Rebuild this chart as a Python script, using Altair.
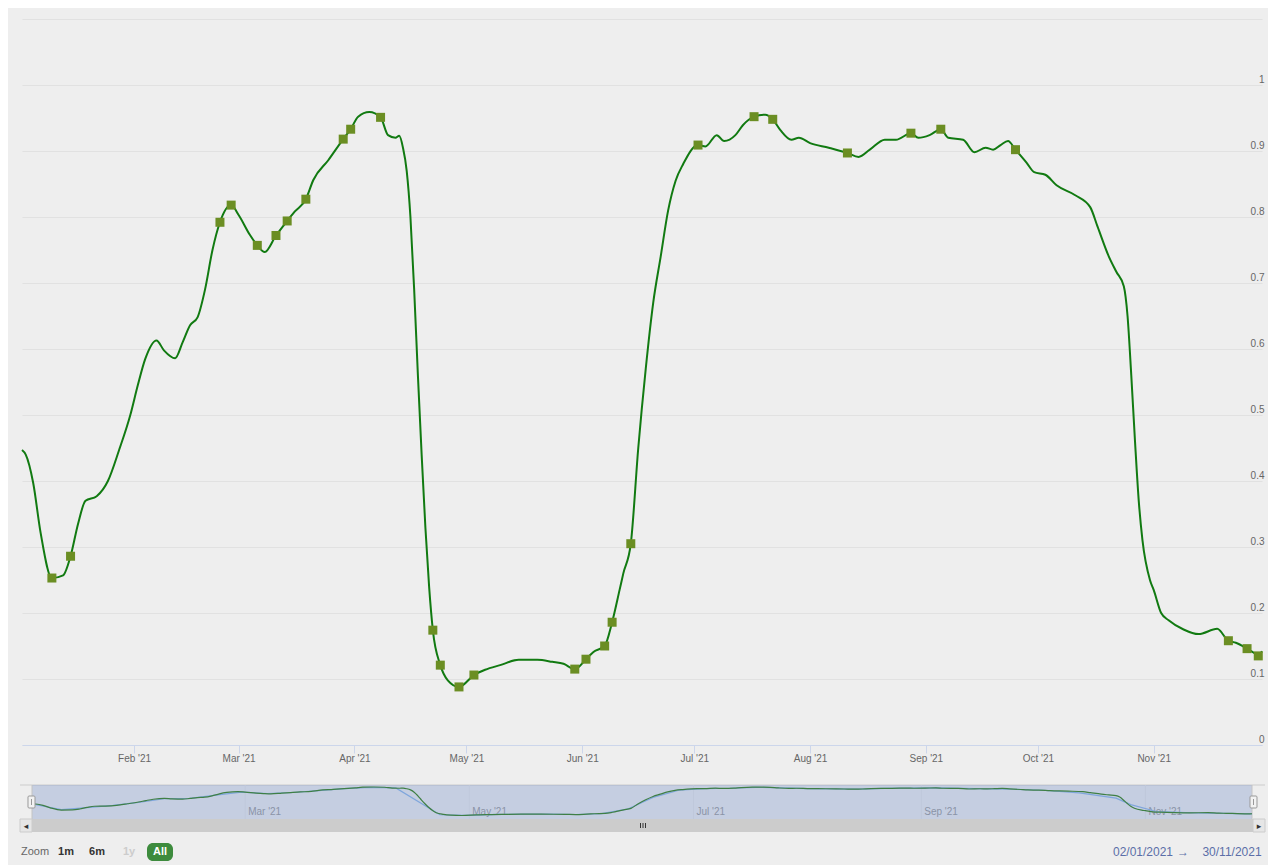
import altair as alt
import pandas as pd

# ---------------- data ----------------
dates = [
    "2021-01-02", "2021-01-03", "2021-01-05", "2021-01-07", "2021-01-10", "2021-01-13", "2021-01-15",
    "2021-01-17", "2021-01-19", "2021-01-22", "2021-01-25", "2021-01-28", "2021-01-31",
    "2021-02-02", "2021-02-04", "2021-02-07", "2021-02-09", "2021-02-12", "2021-02-14", "2021-02-16",
    "2021-02-18", "2021-02-20", "2021-02-22", "2021-02-24", "2021-02-27",
    "2021-03-01", "2021-03-04", "2021-03-06", "2021-03-08", "2021-03-11", "2021-03-14", "2021-03-16",
    "2021-03-19", "2021-03-21", "2021-03-25", "2021-03-29", "2021-03-31",
    "2021-04-02", "2021-04-05", "2021-04-08", "2021-04-10", "2021-04-12", "2021-04-13", "2021-04-14",
    "2021-04-15", "2021-04-16", "2021-04-17", "2021-04-18", "2021-04-19", "2021-04-20", "2021-04-21",
    "2021-04-22", "2021-04-24", "2021-04-26", "2021-04-29",
    "2021-05-03", "2021-05-06", "2021-05-10", "2021-05-15", "2021-05-20", "2021-05-24", "2021-05-27",
    "2021-05-30",
    "2021-06-02", "2021-06-04", "2021-06-07", "2021-06-09", "2021-06-11", "2021-06-12", "2021-06-14",
    "2021-06-16", "2021-06-18", "2021-06-20", "2021-06-22", "2021-06-24", "2021-06-26", "2021-06-28",
    "2021-07-02", "2021-07-04", "2021-07-07", "2021-07-09", "2021-07-12", "2021-07-14", "2021-07-17",
    "2021-07-20", "2021-07-22", "2021-07-24", "2021-07-27", "2021-07-29",
    "2021-08-01", "2021-08-06", "2021-08-11", "2021-08-14", "2021-08-17", "2021-08-21", "2021-08-24",
    "2021-08-28", "2021-08-30",
    "2021-09-02", "2021-09-05", "2021-09-07", "2021-09-11", "2021-09-14", "2021-09-17", "2021-09-19",
    "2021-09-21", "2021-09-23", "2021-09-25", "2021-09-28", "2021-09-30",
    "2021-10-03", "2021-10-06", "2021-10-11", "2021-10-15", "2021-10-17", "2021-10-20", "2021-10-22",
    "2021-10-24", "2021-10-25", "2021-10-26", "2021-10-27", "2021-10-28", "2021-10-29", "2021-10-31",
    "2021-11-01", "2021-11-03", "2021-11-05", "2021-11-09", "2021-11-13", "2021-11-18", "2021-11-21",
    "2021-11-23", "2021-11-26", "2021-11-28", "2021-11-29", "2021-11-30",
]
values = [
    0.447, 0.440, 0.397, 0.321, 0.253, 0.257, 0.286,
    0.335, 0.370, 0.377, 0.400, 0.447, 0.500,
    0.545, 0.585, 0.613, 0.598, 0.586, 0.610, 0.636,
    0.648, 0.690, 0.750, 0.792, 0.818,
    0.803, 0.773, 0.757, 0.747, 0.772, 0.794, 0.808,
    0.827, 0.856, 0.886, 0.918, 0.933,
    0.952, 0.959, 0.951, 0.924, 0.920, 0.923, 0.905,
    0.870, 0.800, 0.690, 0.560, 0.440, 0.330, 0.240,
    0.174, 0.121, 0.098, 0.088,
    0.106, 0.114, 0.121, 0.129, 0.129, 0.126, 0.123,
    0.115,
    0.130, 0.141, 0.150, 0.186, 0.235, 0.260, 0.305,
    0.450, 0.570, 0.670, 0.740, 0.810, 0.855, 0.880,
    0.909, 0.907, 0.924, 0.915, 0.924, 0.939, 0.952,
    0.955, 0.948, 0.932, 0.917, 0.920,
    0.912, 0.905, 0.897, 0.891, 0.902, 0.917, 0.917,
    0.927, 0.920,
    0.924, 0.933, 0.920, 0.917, 0.898, 0.905, 0.902,
    0.909, 0.915, 0.902, 0.882, 0.868,
    0.864, 0.848, 0.833, 0.815, 0.785, 0.740, 0.717,
    0.695, 0.650, 0.560, 0.460, 0.370, 0.310, 0.250,
    0.235, 0.200, 0.189, 0.175, 0.168, 0.176, 0.158,
    0.155, 0.146, 0.139, 0.135, 0.142,
]
marker_dates = [
    "2021-01-10", "2021-01-15", "2021-02-24", "2021-02-27", "2021-03-06", "2021-03-11", "2021-03-14",
    "2021-03-19", "2021-03-29", "2021-03-31", "2021-04-08", "2021-04-22", "2021-04-24", "2021-04-29",
    "2021-05-03", "2021-05-30", "2021-06-02", "2021-06-07", "2021-06-09", "2021-06-14", "2021-07-02",
    "2021-07-17", "2021-07-22", "2021-08-11", "2021-08-28", "2021-09-05", "2021-09-25", "2021-11-21",
    "2021-11-26", "2021-11-29",
]
# second (light blue) series shown in the navigator
nav_dates = [
    "2021-01-02", "2021-01-10", "2021-01-17", "2021-01-24", "2021-01-31", "2021-02-07", "2021-02-14",
    "2021-02-21", "2021-02-28", "2021-03-07", "2021-03-14", "2021-03-21", "2021-03-28", "2021-04-04",
    "2021-04-11", "2021-04-23", "2021-04-30", "2021-05-09", "2021-05-16", "2021-05-23", "2021-05-30",
    "2021-06-06", "2021-06-13", "2021-06-20", "2021-06-27", "2021-07-04", "2021-07-11", "2021-07-18",
    "2021-07-25", "2021-08-01", "2021-08-08", "2021-08-15", "2021-08-22", "2021-08-29", "2021-09-05",
    "2021-09-12", "2021-09-19", "2021-09-26", "2021-10-04", "2021-10-14", "2021-10-24", "2021-10-28",
    "2021-11-04", "2021-11-14", "2021-11-30",
]
nav_values = [
    0.440, 0.270, 0.330, 0.400, 0.490, 0.600, 0.610,
    0.710, 0.800, 0.760, 0.790, 0.850, 0.910, 0.950,
    0.930, 0.110, 0.090, 0.120, 0.130, 0.127, 0.118,
    0.145, 0.280, 0.640, 0.860, 0.910, 0.920, 0.950,
    0.930, 0.910, 0.900, 0.895, 0.915, 0.925, 0.930,
    0.915, 0.903, 0.890, 0.860, 0.780, 0.620, 0.420,
    0.210, 0.170, 0.140,
]
month_ticks = ["2021-02-01", "2021-03-01", "2021-04-01", "2021-05-01", "2021-06-01",
               "2021-07-01", "2021-08-01", "2021-09-01", "2021-10-01", "2021-11-01"]
nav_grid_dates = ["2021-03-01", "2021-05-01", "2021-07-01", "2021-09-01", "2021-11-01"]
nav_grid_labels = ["Mar '21", "May '21", "Jul '21", "Sep '21", "Nov '21"]
y_ticks = [0, 0.1, 0.2, 0.3, 0.4, 0.5, 0.6, 0.7, 0.8, 0.9, 1.0, 1.1]
zoom_label = "Zoom"
zoom_buttons = ["1m", "6m", "1y", "All"]
range_from = "02/01/2021"
range_sep = "\u2192"
range_to = "30/11/2021"

# ---------------- helpers ----------------
def utc(s):
    y, m, d = (int(p) for p in s.split("-"))
    return alt.DateTime(year=y, month=m, date=d, utc=True)

FONT = "Liberation Sans, Arial, DejaVu Sans, sans-serif"
LINE_GREEN = "#117a11"
MARKER_GREEN = "#6b8e23"

df = pd.DataFrame({"date": dates, "value": values})
df["marked"] = df["date"].isin(marker_dates)
df_marks = df[df["marked"]].reset_index(drop=True)
df_nav = pd.DataFrame({"date": nav_dates, "value": nav_values})
df_grid = pd.DataFrame({"date": nav_grid_dates, "label": nav_grid_labels})
one = pd.DataFrame({"k": [0]})

x_dom = [utc(dates[0]), utc(dates[-1])]

# ---------------- main plot ----------------
main_x = alt.Scale(type="utc", domain=x_dom, nice=False)
main_y = alt.Scale(domain=[0, 1.1], nice=False, zero=True)

x_axis = alt.Axis(
    values=[utc(s) for s in month_ticks], format="%b '%y", grid=False,
    domainColor="#ccd6eb", tickColor="#ccd6eb", tickSize=8, labelPadding=0,
    labelColor="#666666", labelFontSize=10, labelFont=FONT, title=None,
    labelFlush=False, labelOverlap=False,
)
y_axis = alt.Axis(
    orient="right", values=y_ticks,
    labelExpr="datum.value > 1.05 ? '' : format(datum.value, '.1~f')",
    grid=True, gridColor="#e1e1e1", ticks=False, domain=False,
    labelAlign="right", labelPadding=2, labelBaseline="bottom", labelOffset=-1,
    labelColor="#666666", labelFontSize=10, labelFont=FONT, title=None,
    labelOverlap=False, labelFlush=False,
)

main_line = alt.Chart(df).mark_line(
    interpolate="monotone", color=LINE_GREEN, strokeWidth=2
).encode(
    x=alt.X("date:T", scale=main_x, axis=x_axis),
    y=alt.Y("value:Q", scale=main_y, axis=y_axis),
)
main_marks = alt.Chart(df_marks).mark_point(
    shape="square", filled=True, size=81, color=MARKER_GREEN, opacity=1
).encode(
    x=alt.X("date:T", scale=main_x),
    y=alt.Y("value:Q", scale=main_y),
)
main = alt.layer(main_line, main_marks)

# ---------------- navigator ----------------
NX0, NX1, NY0, NY1 = 10, 1230, 766, 801
nav_x = alt.Scale(type="utc", domain=x_dom, range=[NX0, NX1], nice=False)
nav_y = alt.Scale(domain=[-0.05, 1.02], range=[NY1, NY0], nice=False, zero=False)

nav_outline_top = alt.Chart(one).mark_rule(color="#cccccc", strokeWidth=1).encode(
    x=alt.value(-2), x2=alt.value(1243), y=alt.value(NY0))
nav_grid = alt.Chart(df_grid).mark_rule(color="#e6e6e6", strokeWidth=1).encode(
    x=alt.X("date:T", scale=nav_x, axis=None), y=alt.value(NY0), y2=alt.value(NY1))
nav_labels = alt.Chart(df_grid).mark_text(
    align="left", baseline="middle", dx=3, fontSize=10, font=FONT, color="#9a9a9a"
).encode(x=alt.X("date:T", scale=nav_x, axis=None), y=alt.value(793), text="label:N")
nav_mask = alt.Chart(one).mark_rect(color="#6685c2", opacity=0.3).encode(
    x=alt.value(NX0), x2=alt.value(NX1), y=alt.value(NY0), y2=alt.value(NY1))
nav_edges = alt.Chart(pd.DataFrame({"px": [NX0, NX1]})).mark_rule(
    color="#c4c4c4", strokeWidth=1).encode(
    x=alt.X("px:Q", scale=None), y=alt.value(NY0), y2=alt.value(NY1))
nav_blue = alt.Chart(df_nav).mark_line(color="#7fa6dc", strokeWidth=1.2).encode(
    x=alt.X("date:T", scale=nav_x, axis=None),
    y=alt.Y("value:Q", scale=nav_y, axis=None))
nav_green = alt.Chart(df).mark_line(interpolate="monotone", color="#3f7f45", strokeWidth=1.2).encode(
    x=alt.X("date:T", scale=nav_x, axis=None),
    y=alt.Y("value:Q", scale=nav_y, axis=None))

handles = alt.Chart(pd.DataFrame({"a": [6, 1228], "b": [13, 1235]})).mark_rect(
    fill="#f2f2f2", stroke="#999999", strokeWidth=1, cornerRadius=1).encode(
    x=alt.X("a:Q", scale=None), x2="b:Q", y=alt.value(777), y2=alt.value(789))
handle_grips = alt.Chart(pd.DataFrame({"a": [9.5, 1231.5]})).mark_rule(
    color="#999999", strokeWidth=1).encode(
    x=alt.X("a:Q", scale=None), y=alt.value(780), y2=alt.value(786))

scroll_track = alt.Chart(one).mark_rect(color="#cccccc").encode(
    x=alt.value(-2), x2=alt.value(1243), y=alt.value(800), y2=alt.value(813))
scroll_btns = alt.Chart(pd.DataFrame({"a": [-2, 1231], "b": [10, 1243]})).mark_rect(
    fill="#e6e6e6", stroke="#cccccc", strokeWidth=1).encode(
    x=alt.X("a:Q", scale=None), x2="b:Q", y=alt.value(800), y2=alt.value(813))
scroll_arrows = alt.Chart(pd.DataFrame({"a": [4, 1237], "t": ["\u25c2", "\u25b8"]})).mark_text(
    fontSize=9, color="#333333", baseline="middle", align="center").encode(
    x=alt.X("a:Q", scale=None), y=alt.value(806.5), text="t:N")
scroll_grip = alt.Chart(pd.DataFrame({"a": [618.5, 621, 623.5]})).mark_rule(
    color="#333333", strokeWidth=1).encode(
    x=alt.X("a:Q", scale=None), y=alt.value(804), y2=alt.value(809))

nav = alt.layer(nav_outline_top, nav_grid, nav_labels, nav_mask, nav_edges,
                nav_blue, nav_green, handles, handle_grips,
                scroll_track, scroll_btns, scroll_arrows, scroll_grip)

# ---------------- range selector ----------------
zoom_txt = alt.Chart(pd.DataFrame({"t": [zoom_label]})).mark_text(
    align="left", baseline="middle", fontSize=11, font=FONT, color="#666666").encode(
    x=alt.value(-1), y=alt.value(833), text="t:N")
btn_df = pd.DataFrame({"t": zoom_buttons[:3], "px": [44, 75, 107],
                       "c": ["#333333", "#333333", "#cccccc"]})
btn_txt = alt.Chart(btn_df).mark_text(
    align="center", baseline="middle", fontSize=11, font=FONT, fontWeight="bold").encode(
    x=alt.X("px:Q", scale=None), y=alt.value(833), text="t:N",
    color=alt.Color("c:N", scale=None))
all_btn = alt.Chart(one).mark_rect(color="#3d8b3d", cornerRadius=6).encode(
    x=alt.value(125), x2=alt.value(151), y=alt.value(824), y2=alt.value(842))
all_txt = alt.Chart(pd.DataFrame({"t": [zoom_buttons[3]]})).mark_text(
    align="center", baseline="middle", fontSize=11, font=FONT, fontWeight="bold", color="white").encode(
    x=alt.value(138), y=alt.value(833), text="t:N")
range_df = pd.DataFrame({"t": [range_from, range_sep, range_to],
                         "px": [1121, 1161, 1210]})
range_txt = alt.Chart(range_df).mark_text(
    align="center", baseline="middle", fontSize=12, font=FONT, color="#5b6ea8").encode(
    x=alt.X("px:Q", scale=None), y=alt.value(833), text="t:N")

deco = alt.layer(zoom_txt, btn_txt, all_btn, all_txt, range_txt)

chart = alt.layer(main, nav, deco).resolve_scale(
    x="independent", y="independent"
).properties(
    width=1240, height=726,
    autosize=alt.AutoSizeParams(type="none"),
    padding={"left": 14, "top": 11, "right": 6, "bottom": 120},
    background="#eeeeee",
).configure(font=FONT).configure_view(stroke=None)

chart.save("out.html", embed_options={"renderer": "svg", "actions": False})
